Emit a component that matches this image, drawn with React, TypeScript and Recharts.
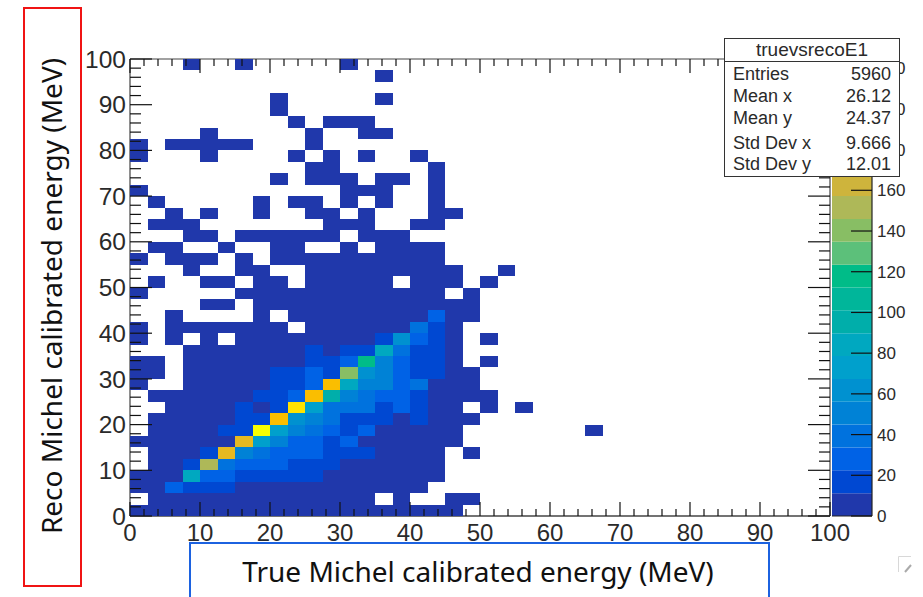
import { Bar, BarChart, ReferenceLine, Scatter, ScatterChart, XAxis, YAxis } from "recharts";

// counts per bin, index = true energy bin (2.5 MeV wide), one array per reco energy bin
const reco00 = [5,5,5,5,5,5,5,5,5,5,5,5,5,5,5,5,5,5,5];
const reco01 = [0,5,5,5,5,5,5,5,5,5,5,5,5,5,0,5,0,0,5,5];
const reco02 = [5,5,28,17,17,17,5,5,5,5,5,5,5,5,5,5,5];
const reco03 = [5,5,5,85,28,28,17,17,17,17,17,5,5,5,5,5,5,5];
const reco04 = [0,5,5,17,153,40,28,28,28,17,17,17,5,5,5,5,5,5];
const reco05 = [0,5,5,5,17,175,51,40,28,28,28,17,17,17,5,5,5,5,0,5];
const reco06 = [5,5,5,5,5,5,175,73,51,28,28,17,28,5,5,5,5,5,5];
const reco07 = [0,5,5,5,5,17,17,221,73,51,40,28,17,28,5,5,5,5,5,0,0,0,0,0,0,0,5];
const reco08 = [0,5,5,5,5,5,17,17,187,62,51,40,17,17,17,5,17,5,5,5];
const reco09 = [0,0,5,5,5,5,17,5,17,209,73,40,40,40,17,28,17,5,5,0,5,0,5];
const reco10 = [0,5,5,5,5,5,5,17,17,28,187,96,51,40,28,28,17,5,5,5,5];
const reco11 = [5,0,0,5,5,5,5,5,17,17,28,187,85,51,51,28,40,5,5,5];
const reco12 = [5,5,0,5,5,5,5,5,17,17,28,17,141,62,51,28,17,17,5,5];
const reco13 = [5,5,0,5,5,5,5,5,5,5,17,17,28,119,51,28,17,17,5,0,5];
const reco14 = [0,0,0,5,5,5,5,5,5,5,17,5,17,17,85,40,17,17,5];
const reco15 = [5,0,5,0,5,0,5,5,5,5,5,5,5,5,17,62,28,17,5,0,5];
const reco16 = [5,0,5,5,5,5,5,5,5,0,5,5,5,5,5,5,40,17,5];
const reco17 = [0,0,5,0,0,0,0,5,0,5,5,5,5,5,5,5,5,28,5,5];
const reco18 = [0,0,0,0,5,5,0,5,5,5,5,5,5,5,5,5,5,5,5,5];
const reco19 = [5,0,0,0,0,0,5,5,5,5,5,5,5,5,5,5,5,5,0,5];
const reco20 = [0,5,0,0,5,5,0,5,5,0,5,5,5,5,5,0,5,5,5,0,5];
const reco21 = [0,0,0,5,0,0,5,5,0,0,5,5,5,5,5,5,5,5,5,0,0,5];
const reco22 = [5,0,5,5,5,0,5,0,5,5,5,5,5,5,5,5,5,5];
const reco23 = [0,5,5,0,0,5,0,0,5,5,0,0,5,0,5,5,5,5];
const reco24 = [0,0,0,5,5,0,5,5,5,5,5,5,0,5,5,5];
const reco25 = [0,5,5,5,0,0,0,0,0,0,0,5,5,5,0,0,5,5];
const reco26 = [0,0,5,0,5,0,0,5,0,0,5,5,0,5,0,0,0,5,5];
const reco27 = [0,5,0,0,0,0,0,5,0,5,5,0,5,0,5,0,0,5];
const reco28 = [5,0,0,0,0,0,0,0,0,0,0,0,5,5,5,0,0,5];
const reco29 = [0,0,0,0,0,0,0,0,5,0,5,5,5,0,5,5,0,5];
const reco30 = [0,0,0,0,0,0,0,0,0,0,5,5,0,0,0,0,0,5];
const reco31 = [5,0,0,0,5,0,0,0,0,5,0,5,0,5,0,0,5];
const reco32 = [5,0,5,5,5,5,5,0,0,0,5];
const reco33 = [0,0,0,0,5,0,0,0,0,0,5,0,0,5,5];
const reco34 = [0,0,0,0,0,0,0,0,0,5,0,5,5,5];
const reco35 = [0,0,0,0,0,0,0,0,5];
const reco36 = [0,0,0,0,0,0,0,0,5,0,0,0,0,0,5];
const reco37: number[] = [];
const reco38 = [0,0,0,0,0,0,0,0,0,0,0,0,0,0,5];
const reco39 = [0,0,0,5,0,0,5,0,0,0,0,0,5];

const recoRows = [
  reco00, reco01, reco02, reco03, reco04, reco05, reco06, reco07, reco08, reco09,
  reco10, reco11, reco12, reco13, reco14, reco15, reco16, reco17, reco18, reco19,
  reco20, reco21, reco22, reco23, reco24, reco25, reco26, reco27, reco28, reco29,
  reco30, reco31, reco32, reco33, reco34, reco35, reco36, reco37, reco38, reco39,
];

const palette = [
  "#2038ab", "#0048d2", "#0062e6", "#0072de", "#0082d6", "#0091d0",
  "#00a0cc", "#00a8c0", "#00aeaa", "#00b69a", "#00bc88", "#5cc07a",
  "#88be64", "#aeb858", "#ceb43c", "#e6b920", "#fabe00", "#ffcf00",
  "#ffe300", "#f8ff00",
];

const majorTicks = [0,10,20,30,40,50,60,70,80,90,100];
const markTicks = [0,2,4,6,8,10,12,14,16,18,20,22,24,26,28,30,32,34,36,38,40,42,44,46,48,50,52,54,56,58,60,62,64,66,68,70,72,74,76,78,80,82,84,86,88,90,92,94,96,98,100];
const colorTicks = [0,20,40,60,80,100,120,140,160,180,200,220];
const statRows = [
  ["Entries", "5960", 74],
  ["Mean x", "26.12", 96],
  ["Mean y", "24.37", 118],
  ["Std Dev x", "9.666", 143],
  ["Std Dev y", "12.01", 164],
] as const;

const BIN = 2.5;
const COLOR_MAX = 224.5;
const LEVEL = COLOR_MAX / palette.length;
const PLOT_W = 700;
const PLOT_H = 457;
const CELL_W = (PLOT_W / 100) * BIN;
const CELL_H = (PLOT_H / 100) * BIN;
const ARIAL = '"Liberation Sans", Arial, sans-serif';
const INK = "#2a2a2a";
const TICK = "#111111";
const FRAME = "#444444";

const cells = recoRows.flatMap((row, r) =>
  row.flatMap((count, c) =>
    count > 0 ? [{ x: (c + 0.5) * BIN, y: (r + 0.5) * BIN, count }] : []
  )
);

const bottomMarks = markTicks.map((v) => ({ x: v, y: 0 }));
const topMarks = markTicks.map((v) => ({ x: v, y: 100 }));
const leftMarks = markTicks.map((v) => ({ x: 0, y: v }));
const rightMarks = markTicks.map((v) => ({ x: 100, y: v }));

const colorRow: Record<string, number | string> = { name: "z" };
palette.forEach((_, i) => {
  colorRow[`l${i}`] = LEVEL;
});

function CellShape(props: any) {
  const { cx, cy, payload } = props;
  const fill = palette[Math.min(palette.length - 1, Math.floor(payload.count / LEVEL))];
  return (
    <rect
      x={cx - CELL_W / 2}
      y={cy - CELL_H / 2}
      width={CELL_W}
      height={CELL_H}
      fill={fill}
      shapeRendering="crispEdges"
    />
  );
}

// inward tick marks on the four sides of the frame
function markShape(side: "bottom" | "top" | "left" | "right") {
  return (props: any) => {
    const { cx, cy, payload } = props;
    const vertical = side === "bottom" || side === "top";
    const value = vertical ? payload.x : payload.y;
    const major = value % 10 === 0;
    const len = vertical ? (major ? 14 : 7) : major ? 22 : 11;
    const dx = side === "left" ? len : side === "right" ? -len : 0;
    const dy = side === "top" ? len : side === "bottom" ? -len : 0;
    return <line x1={cx} y1={cy} x2={cx + dx} y2={cy + dy} stroke={TICK} strokeWidth={1.2} />;
  };
}

function colorTick(props: any) {
  const { x, y, payload } = props;
  return (
    <g>
      <line x1={x} x2={x - 21} y1={y} y2={y} stroke="#111" strokeWidth={1.2} />
      <text x={x + 5} y={y + 6} fontSize={17} fontFamily={ARIAL} fill={INK}>
        {payload.value}
      </text>
    </g>
  );
}

export default function App() {
  return (
    <div style={{ position: "absolute", left: 0, top: 0, width: 923, height: 597, overflow: "hidden", background: "#fff" }}>
      <div style={{ position: "absolute", left: 0, top: 0 }}>
        <ScatterChart width={923} height={597} margin={{ top: 59, right: 93, bottom: 0, left: 0 }}>
          <XAxis
            type="number"
            dataKey="x"
            domain={[0, 100]}
            ticks={majorTicks}
            interval={0}
            height={81}
            tickSize={0}
            tickMargin={8}
            tickLine={false}
            axisLine={false}
            tick={{ fontSize: 24, fontFamily: ARIAL, fill: INK }}
          />
          <YAxis
            type="number"
            dataKey="y"
            domain={[0, 100]}
            ticks={majorTicks}
            interval={0}
            width={130}
            tickSize={0}
            tickMargin={4}
            tickLine={false}
            axisLine={false}
            tick={{ fontSize: 24.5, fontFamily: ARIAL, fill: INK }}
          />
          <Scatter data={cells} dataKey="count" shape={CellShape} isAnimationActive={false} />
          <Scatter data={bottomMarks} shape={markShape("bottom")} isAnimationActive={false} />
          <Scatter data={topMarks} shape={markShape("top")} isAnimationActive={false} />
          <Scatter data={leftMarks} shape={markShape("left")} isAnimationActive={false} />
          <Scatter data={rightMarks} shape={markShape("right")} isAnimationActive={false} />
          <ReferenceLine x={0} stroke={FRAME} strokeWidth={1.2} />
          <ReferenceLine x={100} stroke={FRAME} strokeWidth={1.2} />
          <ReferenceLine y={0} stroke={FRAME} strokeWidth={1.6} />
          <ReferenceLine y={100} stroke={FRAME} strokeWidth={1.2} />
        </ScatterChart>
      </div>

      <div style={{ position: "absolute", left: 832, top: 0 }}>
        <BarChart
          width={91}
          height={597}
          data={[colorRow]}
          barCategoryGap={0}
          margin={{ top: 59, right: 0, bottom: 0, left: 0 }}
        >
          <XAxis dataKey="name" height={81} tick={false} tickLine={false} axisLine={{ stroke: "#222", strokeWidth: 1.2 }} />
          <YAxis
            orientation="right"
            type="number"
            domain={[0, COLOR_MAX]}
            ticks={colorTicks}
            interval={0}
            width={51}
            tickSize={0}
            tickMargin={0}
            tickLine={false}
            axisLine={{ stroke: "#222", strokeWidth: 1.2 }}
            tick={colorTick}
          />
          {palette.map((color, i) => (
            <Bar key={color} dataKey={`l${i}`} stackId="z" fill={color} isAnimationActive={false} />
          ))}
        </BarChart>
      </div>

      <div
        style={{
          position: "absolute",
          left: 724,
          top: 38,
          width: 174,
          height: 137,
          background: "#fff",
          border: "1px solid #333",
          fontFamily: ARIAL,
          fontSize: 18,
          color: INK,
        }}
      >
        <div style={{ height: 22, lineHeight: "22px", fontSize: 19, textAlign: "center", borderBottom: "1px solid #333" }}>truevsrecoE1</div>
        {statRows.map(([name, value, y]) => (
          <div key={name} style={{ position: "absolute", left: 8, right: 8, top: y - 48, display: "flex", justifyContent: "space-between", lineHeight: "18px" }}>
            <span>{name}</span>
            <span>{value}</span>
          </div>
        ))}
      </div>

      <div style={{ position: "absolute", left: 23, top: 7, width: 55, height: 576, border: "2px solid #f01414" }} />
      <div
        style={{
          position: "absolute",
          left: 51,
          top: 296,
          transform: "translate(-50%, -50%) rotate(-90deg)",
          whiteSpace: "nowrap",
          fontFamily: '"Noto Sans", sans-serif',
          fontSize: 28,
          color: "#111",
        }}
      >
        Reco Michel calibrated energy (MeV)
      </div>

      <div style={{ position: "absolute", left: 189, top: 542, width: 577, height: 80, border: "2px solid #1c62e0" }} />
      <div
        style={{
          position: "absolute",
          left: 478,
          top: 571,
          transform: "translate(-50%, -50%)",
          whiteSpace: "nowrap",
          fontFamily: '"Noto Sans", sans-serif',
          fontSize: 28,
          color: "#111",
        }}
      >
        True Michel calibrated energy (MeV)
      </div>

      <svg style={{ position: "absolute", left: 896, top: 554 }} width={20} height={20}>
        <path d="M2.5 18 V2.5 H15" fill="none" stroke="#d8d8d8" strokeWidth={1} />
        <path d="M9 18 L15 11" fill="none" stroke="#aaa" strokeWidth={2} />
      </svg>
    </div>
  );
}
